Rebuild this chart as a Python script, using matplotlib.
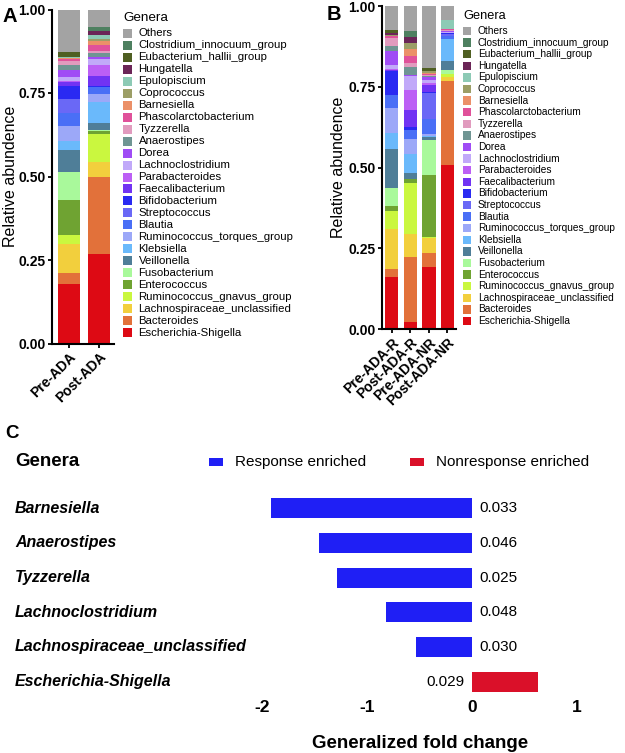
"""Gut microbiota composition (A, B) and differential genera (C)."""

import matplotlib
matplotlib.use("Agg")
import matplotlib.pyplot as plt
import matplotlib.transforms as mtransforms
from matplotlib.patches import Rectangle
import numpy as np

plt.rcParams["font.family"] = ["Liberation Sans", "DejaVu Sans"]

W, H = 625, 753

# stacking order, bottom -> top
genera = [
    "Escherichia-Shigella", "Bacteroides", "Lachnospiraceae_unclassified",
    "Ruminococcus_gnavus_group", "Enterococcus", "Fusobacterium", "Veillonella",
    "Klebsiella", "Ruminococcus_torques_group", "Blautia", "Streptococcus",
    "Bifidobacterium", "Faecalibacterium", "Parabacteroides", "Lachnoclostridium",
    "Dorea", "Anaerostipes", "Tyzzerella", "Phascolarctobacterium", "Barnesiella",
    "Coprococcus", "Epulopiscium", "Hungatella", "Eubacterium_hallii_group",
    "Clostridium_innocuum_group", "Others",
]
colors = [
    "#DD0A14", "#E2713A", "#F2CF3D", "#CAF73F", "#6FA332", "#A9F99B", "#4F7E98",
    "#6AB9FB", "#9CA8F8", "#4A6FF6", "#6A68F6", "#2A2AF2", "#7133F3", "#BC5FF5",
    "#C1A9F9", "#A04CF5", "#6F9593", "#E19BBE", "#E0519A", "#EB9068", "#9C9E66",
    "#8DCAB5", "#6B2557", "#4F5F22", "#4E8060", "#A3A3A3",
]

# panel A
samples_a = ["Pre-ADA", "Post-ADA"]
pre_ada = [0.177, 0.035, 0.085, 0.029, 0.104, 0.084, 0.066, 0.025, 0.045, 0.040,
           0.043, 0.038, 0.012, 0.004, 0.011, 0.022, 0.014, 0.012, 0.005, 0.003,
           0.002, 0.001, 0.002, 0.014, 0.001, 0.126]
post_ada = [0.267, 0.233, 0.043, 0.085, 0.007, 0.005, 0.020, 0.063, 0.023, 0.022,
            0.000, 0.003, 0.029, 0.033, 0.020, 0.005, 0.011, 0.006, 0.018, 0.012,
            0.008, 0.012, 0.010, 0.002, 0.010, 0.053]

# panel B
samples_b = ["Pre-ADA-R", "Post-ADA-R", "Pre-ADA-NR", "Post-ADA-NR"]
pre_ada_r = [0.161, 0.025, 0.124, 0.056, 0.014, 0.058, 0.121, 0.048, 0.079, 0.039,
             0.000, 0.075, 0.003, 0.002, 0.013, 0.042, 0.017, 0.023, 0.007, 0.001,
             0.001, 0.001, 0.006, 0.011, 0.000, 0.073]
post_ada_r = [0.024, 0.199, 0.072, 0.159, 0.012, 0.000, 0.017, 0.060, 0.045, 0.029,
              0.000, 0.010, 0.052, 0.062, 0.041, 0.005, 0.023, 0.014, 0.022, 0.021,
              0.018, 0.000, 0.018, 0.000, 0.021, 0.076]
pre_ada_nr = [0.192, 0.043, 0.046, 0.003, 0.193, 0.107, 0.010, 0.005, 0.006, 0.045,
              0.080, 0.003, 0.023, 0.006, 0.008, 0.010, 0.003, 0.004, 0.004, 0.002,
              0.005, 0.000, 0.000, 0.010, 0.000, 0.192]
post_ada_nr = [0.507, 0.260, 0.013, 0.010, 0.000, 0.013, 0.028, 0.067, 0.000, 0.010,
               0.004, 0.003, 0.003, 0.000, 0.002, 0.003, 0.000, 0.003, 0.004, 0.000,
               0.000, 0.028, 0.000, 0.000, 0.000, 0.042]

# panel C
genera_c = ["Barnesiella", "Anaerostipes", "Tyzzerella", "Lachnoclostridium",
            "Lachnospiraceae_unclassified", "Escherichia-Shigella"]
fold_change = [-1.91, -1.46, -1.29, -0.82, -0.53, 0.63]
p_values = ["0.033", "0.046", "0.025", "0.048", "0.030", "0.029"]

BLUE = "#1F1FF5"
RED = "#DA1029"


def px_axes(x0, x1, y0, y1):
    """Axes rectangle from pixel edges (left, right, top, bottom)."""
    return [x0 / W, 1 - y1 / H, (x1 - x0) / W, (y1 - y0) / H]


def stacked_panel(ax, names, rows, xlim, width):
    data = np.array(rows)
    cum = np.cumsum(data, axis=1) - data
    x = np.arange(len(names))
    for i, c in enumerate(colors):
        ax.bar(x, data[:, i], bottom=cum[:, i], width=width, color=c, linewidth=0)
    ax.set_xlim(*xlim)
    ax.set_ylim(0, 1)
    ax.set_yticks([0, 0.25, 0.5, 0.75, 1.0])
    ax.set_yticklabels(["0.00", "0.25", "0.50", "0.75", "1.00"],
                       fontsize=10, fontweight="bold")
    ax.set_xticks(x)
    ax.set_xticklabels(names, rotation=45, ha="right", rotation_mode="anchor",
                       fontsize=10, fontweight="bold")
    ax.tick_params(length=3, width=1.3, pad=1.5)
    for s in ("top", "right"):
        ax.spines[s].set_visible(False)
    for s in ("left", "bottom"):
        ax.spines[s].set_linewidth(1.5)
    ax.set_ylabel("Relative abundence", fontsize=11.5)


def genera_legend(fig, x, y_title, y0, dy, box, fs, title_fs):
    fig.text(x / W, 1 - y_title / H, "Genera", fontsize=title_fs, va="center")
    for k, (name, c) in enumerate(zip(genera[::-1], colors[::-1])):
        y = y0 + k * dy
        fig.patches.append(Rectangle((x / W, 1 - (y + box / 2) / H), box / W, box / H,
                                     facecolor=c, edgecolor="none",
                                     transform=fig.transFigure, figure=fig))
        fig.text((x + box + 6.5) / W, 1 - y / H, name, fontsize=fs, va="center")


fig = plt.figure(figsize=(W / 100, H / 100), dpi=100)

# A
ax_a = fig.add_axes(px_axes(52, 114, 9.5, 343.5))
stacked_panel(ax_a, samples_a, [pre_ada, post_ada], (-0.57, 1.5), 0.72)
ax_a.yaxis.set_label_coords(-0.55, 0.5)
genera_legend(fig, 123, 18, 33.5, 11.96, 9, 8.2, 9.7)
fig.text(3 / W, 1 - 16 / H, "A", fontsize=14.5, fontweight="bold", va="center")

# B
ax_b = fig.add_axes(px_axes(381.5, 456, 6, 329.3))
stacked_panel(ax_b, samples_b, [pre_ada_r, post_ada_r, pre_ada_nr, post_ada_nr],
              (-0.55, 3.46), 0.715)
ax_b.yaxis.set_label_coords(-0.47, 0.5)
genera_legend(fig, 463, 16, 31, 11.6, 8.5, 7.3, 9.2)
fig.text(327 / W, 1 - 14 / H, "B", fontsize=14.5, fontweight="bold", va="center")

# C
ax_c = fig.add_axes(px_axes(230, 610, 491, 699))
y = np.arange(len(genera_c))
bar_colors = [BLUE if v < 0 else RED for v in fold_change]
ax_c.barh(y, fold_change, height=0.57, color=bar_colors, linewidth=0)
ax_c.set_xlim(-2.305, 1.314)
ax_c.set_ylim(len(genera_c) - 0.5, -0.5)
ax_c.set_xticks([-2, -1, 0, 1])
ax_c.set_xticklabels(["-2", "-1", "0", "1"], fontsize=12.5, fontweight="bold")
ax_c.set_yticks([])
ax_c.tick_params(axis="x", length=0, pad=1)
for s in ax_c.spines.values():
    s.set_visible(False)
ax_c.set_xlabel("Generalized fold change", fontsize=13.5, fontweight="bold",
                labelpad=14)

row_tf = mtransforms.blended_transform_factory(fig.transFigure, ax_c.transData)
for yi, name, v, p in zip(y, genera_c, fold_change, p_values):
    ax_c.text(15 / W, yi, name, transform=row_tf, fontsize=11.5,
              fontweight="bold", fontstyle="italic", va="center", ha="left")
    if v < 0:
        ax_c.text(0.07, yi, p, fontsize=11, va="center", ha="left")
    else:
        ax_c.text(-0.07, yi, p, fontsize=11, va="center", ha="right")

fig.text(5 / W, 1 - 433 / H, "C", fontsize=13.5, fontweight="bold", va="center")
fig.text(15 / W, 1 - 462 / H, "Genera", fontsize=13.5, fontweight="bold", va="center")
for x0, c, label in [(209, BLUE, "Response enriched"), (410, RED, "Nonresponse enriched")]:
    fig.patches.append(Rectangle((x0 / W, 1 - 466 / H), 14 / W, 8 / H, facecolor=c,
                                 edgecolor="none", transform=fig.transFigure, figure=fig))
    fig.text((x0 + 26) / W, 1 - 462 / H, label, fontsize=11, va="center")

fig.savefig("out.png", dpi=100)
plt.close(fig)
